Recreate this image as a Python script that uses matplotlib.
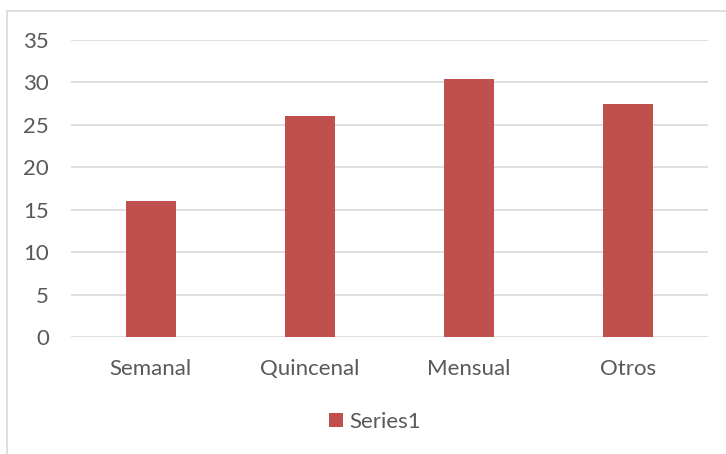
import matplotlib.pyplot as plt
from matplotlib.patches import Rectangle

categories = ["Semanal", "Quincenal", "Mensual", "Otros"]
values = [16, 26.1, 30.4, 27.5]
yticks = [0, 5, 10, 15, 20, 25, 30, 35]

plt.rcParams['font.family'] = ['Lato', 'DejaVu Sans']

fig = plt.figure(figsize=(7.26, 4.54), dpi=100)

# light chart-area frame
fig.patches.append(Rectangle((7 / 726, -0.1), 1.1, 1 - 11 / 454 + 0.1,
                             transform=fig.transFigure, fill=False,
                             edgecolor="#d9d9d9", linewidth=1.2))

ax = fig.add_axes([71 / 726, 1 - 337 / 454, (708 - 71) / 726, (337 - 40) / 454])
x = range(len(categories))
ax.bar(x, values, width=0.314, color="#c0504d", label="Series1", zorder=3)

ax.set_xlim(-0.5, 3.5)
ax.set_ylim(0, 35)
ax.set_yticks(yticks)
ax.set_xticks(list(x))
ax.set_xticklabels(categories)
ax.grid(axis="y", color="#d9d9d9", linewidth=1.2, zorder=0)
for s in ax.spines.values():
    s.set_visible(False)
ax.tick_params(length=0, colors="#595959", labelsize=16)
ax.tick_params(axis="y", pad=16)
ax.tick_params(axis="x", pad=15.5)
for lbl in ax.get_yticklabels():
    lbl.set_horizontalalignment("right")

fig.legend(loc="center", bbox_to_anchor=(375 / 726, 1 - 422 / 454), frameon=False,
           fontsize=16, labelcolor="#595959", handlelength=0.6, handleheight=0.6,
           handletextpad=0.3)

fig.savefig("out.png", dpi=100)
